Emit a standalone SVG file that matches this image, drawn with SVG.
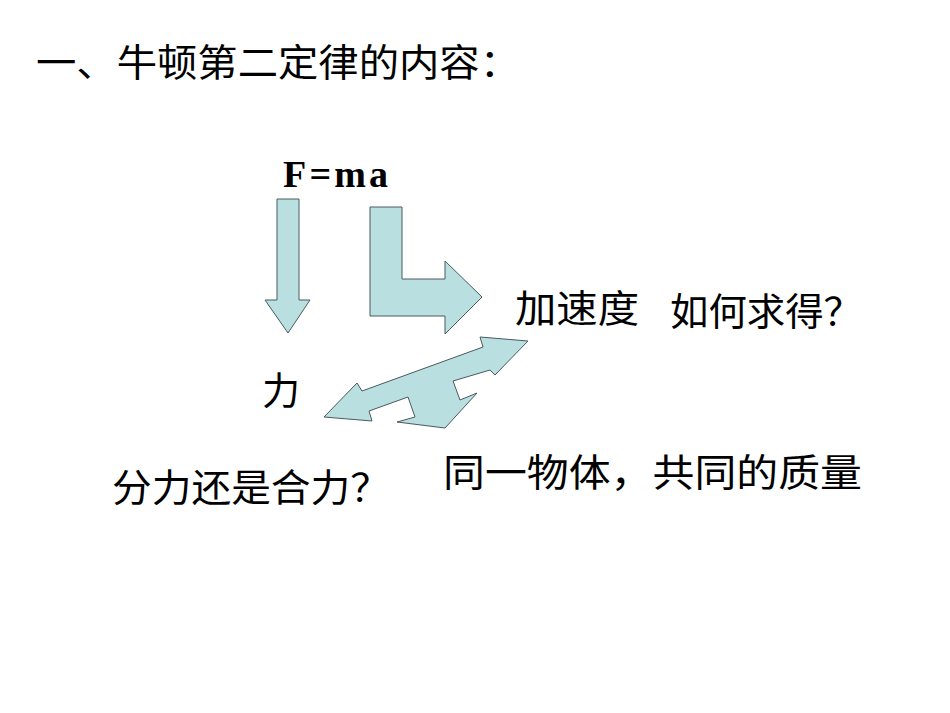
<svg xmlns="http://www.w3.org/2000/svg" width="950" height="713" viewBox="0 0 950 713">
<style>
.t{font-family:"Noto Sans CJK SC","Liberation Serif",sans-serif;font-size:38px;fill:#000}
.a{fill:#b9dfe0;stroke:#4a5a5e;stroke-width:1}
</style>
<rect width="950" height="713" fill="#fff"/>
<text class="t" x="36" y="76" textLength="484" lengthAdjust="spacingAndGlyphs">一、牛顿第二定律的内容：</text>
<g id="formula"><text x="283" y="187" style="font-family:'Liberation Serif',serif;font-weight:bold;font-size:38px" textLength="105">F=ma</text></g>
<g id="force"><text class="t" x="262" y="404">力</text></g>
<g id="accel"><text class="t" x="515" y="322" textLength="124" lengthAdjust="spacingAndGlyphs">加速度</text></g>
<g id="q1"><text class="t" x="670" y="325" textLength="192" lengthAdjust="spacingAndGlyphs">如何求得？</text></g>
<g id="q2"><text class="t" x="112" y="501" textLength="278" lengthAdjust="spacingAndGlyphs">分力还是合力？</text></g>
<g id="mass"><text class="t" x="443" y="486" textLength="419" lengthAdjust="spacingAndGlyphs">同一物体，共同的质量</text></g>
<g id="connectors">
<polygon class="a" points="277,199 299,199 299,300 310,300 288,333 265,300 277,300"/>
<polygon class="a" points="370,207 402,207 402,279 445,279 445,261 482,297 445,334 445,316 370,316"/>
<polygon class="a" points="528,341 480,337 483,347 362,391 357,383 324,417 372,421 369,411 408,397 415,417 397,422 445,428 477,393 460,400 453,381 490,370 495,375"/>
</g>
</svg>
